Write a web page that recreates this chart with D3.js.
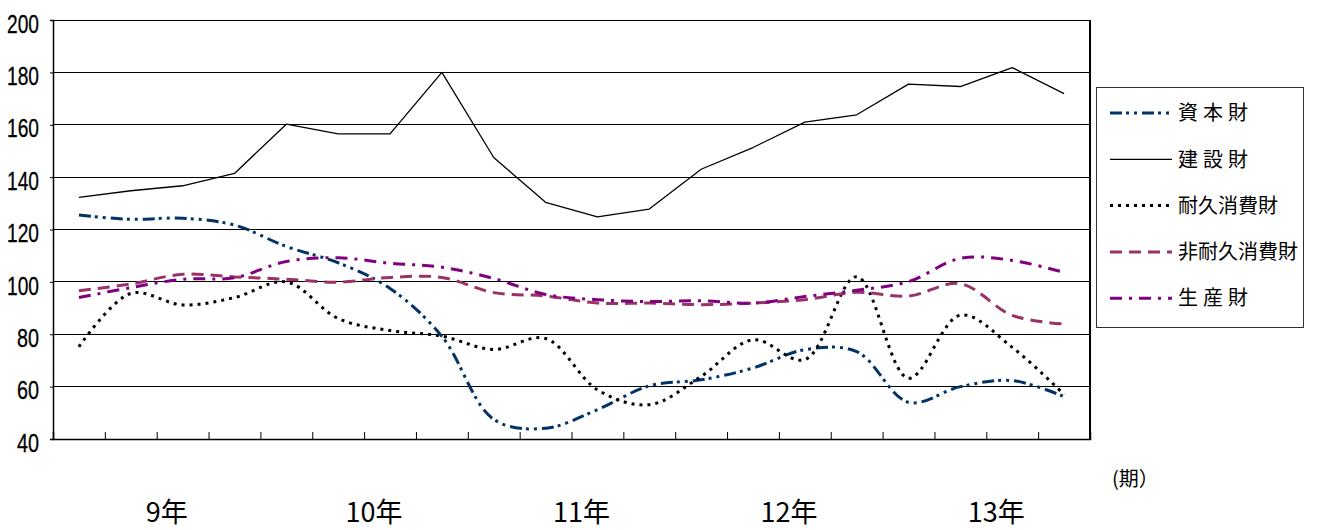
<!DOCTYPE html>
<html>
<head>
<meta charset="utf-8">
<script src="https://cdn.jsdelivr.net/npm/d3@7"></script>
<style>
  html, body { margin: 0; padding: 0; background: #fff; }
  svg { display: block; }
</style>
</head>
<body>
<svg id="chart" width="1317" height="530"></svg>
<script>
// ---------------- data ----------------
const quarters = d3.range(20); // 9年Q1 ... 13年Q4
const yearLabels = ["9年", "10年", "11年", "12年", "13年"];
const yTicks = [40, 60, 80, 100, 120, 140, 160, 180, 200];

const seriesNames = ["資本財", "建設財", "耐久消費財", "非耐久消費財", "生産財"];
const shihonzai   = [125.5, 123.9, 124.3, 121.7, 113.5, 107.3, 97.5, 79.2, 47.5, 44.1, 51.2, 60.3, 62.6, 67.1, 74.1, 73.4, 54.0, 60.0, 62.3, 56.2];
const kensetsuzai = [132.3, 134.8, 136.7, 141.4, 160.2, 156.5, 156.5, 180.0, 147.5, 130.4, 124.8, 127.8, 143.0, 151.3, 161.0, 163.8, 175.5, 174.6, 181.8, 171.9];
const taikyu      = [75.2, 95.6, 91.2, 94.0, 100.0, 86.0, 81.4, 79.3, 74.2, 78.4, 58.8, 53.1, 63.9, 77.9, 70.3, 102.0, 63.2, 87.3, 75.0, 57.0];
const hitaikyu    = [96.6, 99.2, 102.9, 101.9, 101.0, 99.9, 101.7, 101.7, 95.9, 94.6, 91.9, 91.9, 91.3, 91.9, 93.2, 96.0, 94.6, 99.3, 87.2, 83.9];
const seisanzai   = [94.0, 97.8, 101.0, 101.6, 107.8, 109.2, 107.1, 105.6, 101.3, 95.2, 93.2, 92.5, 92.8, 91.9, 94.4, 96.8, 100.1, 109.0, 108.2, 103.6];
const seriesValues = [shihonzai, kensetsuzai, taikyu, hitaikyu, seisanzai];

// ---------------- styles ----------------
const styles = [
  { color: "#003366", width: 3,   dash: "12,4,3,5,3,5", smooth: true },
  { color: "#000000", width: 1.3, dash: null,           smooth: false },
  { color: "#000000", width: 3,   dash: "3,5",          smooth: true },
  { color: "#993366", width: 3,   dash: "12,7",         smooth: true },
  { color: "#800080", width: 3,   dash: "12,7,3,7",     smooth: true }
];

const svg = d3.select("#chart");
const L = 53, R = 1090, T = 20, B = 439;

const x = d3.scaleBand().domain(quarters).range([L, R]).padding(0);
const xb = d3.scaleLinear().domain([0, quarters.length]).range([L, R]);
const y = d3.scaleLinear().domain([40, 200]).range([B, T]);
const cx = i => x(i) + x.bandwidth() / 2;

// grid lines
svg.append("g").selectAll("line").data(yTicks.filter(v => v > 40)).join("line")
  .attr("x1", L).attr("x2", R).attr("y1", d => y(d)).attr("y2", d => y(d))
  .attr("stroke", "#000").attr("stroke-width", 1).attr("shape-rendering", "crispEdges");

// right border
svg.append("line").attr("x1", R).attr("x2", R).attr("y1", T).attr("y2", B)
  .attr("stroke", "#000").attr("stroke-width", 1.3).attr("shape-rendering", "crispEdges");

// left axis
const yAxis = svg.append("g").attr("transform", `translate(${L},0)`)
  .call(d3.axisLeft(y).tickValues(yTicks).tickSize(3).tickPadding(11).tickFormat(d3.format("d")));
yAxis.select(".domain").attr("stroke", "#000").attr("stroke-width", 1.5);
yAxis.selectAll(".tick line").attr("stroke", "#000");
yAxis.selectAll(".tick text")
  .attr("font-family", "'Liberation Sans', Arial, sans-serif")
  .attr("font-size", 26)
  .attr("fill", "#000")
  .attr("stroke", "#000").attr("stroke-width", 0.3)
  .attr("dy", "0.47em")
  .attr("textLength", d => String(d).length === 3 ? 32 : 22)
  .attr("lengthAdjust", "spacingAndGlyphs");

// bottom axis with inward ticks at quarter boundaries
const xAxis = svg.append("g").attr("transform", `translate(0,${B})`)
  .call(d3.axisBottom(xb).tickValues(d3.range(0, quarters.length + 1)).tickSize(-7).tickFormat(""));
xAxis.select(".domain").attr("stroke", "#000").attr("stroke-width", 1.5);
xAxis.selectAll(".tick line").attr("stroke", "#000");

// year labels
svg.append("g").selectAll("text").data(yearLabels).join("text")
  .attr("x", (d, k) => xb(4 * k + 2) + 10)
  .attr("y", 522)
  .attr("text-anchor", "middle")
  .attr("font-family", "'Noto Sans CJK JP', sans-serif")
  .attr("font-size", 27)
  .attr("fill", "#000")
  .text(d => d);

svg.append("text").attr("x", 1112).attr("y", 486)
  .attr("font-family", "'Noto Sans CJK JP', sans-serif")
  .attr("font-size", 20).attr("fill", "#000")
  .text("(期）");

// lines
const lineSmooth = d3.line().x((d, i) => cx(i)).y(d => y(d)).curve(d3.curveCatmullRom.alpha(0.5));
const lineStraight = d3.line().x((d, i) => cx(i)).y(d => y(d));

svg.append("g").selectAll("path").data(seriesValues).join("path")
  .attr("d", (d, i) => (styles[i].smooth ? lineSmooth : lineStraight)(d))
  .attr("fill", "none")
  .attr("stroke", (d, i) => styles[i].color)
  .attr("stroke-width", (d, i) => styles[i].width)
  .attr("stroke-dasharray", (d, i) => styles[i].dash)
  .attr("stroke-linejoin", "round");

// legend
const lg = svg.append("g");
lg.append("rect").attr("x", 1096.5).attr("y", 87.5).attr("width", 207).attr("height", 240)
  .attr("fill", "#fff").attr("stroke", "#333").attr("stroke-width", 1);
const rowY = i => 113 + i * 46.3;
const items = lg.selectAll("g.item").data(seriesNames).join("g").attr("class", "item");
items.append("line")
  .attr("x1", 1110).attr("x2", 1172)
  .attr("y1", (d, i) => rowY(i)).attr("y2", (d, i) => rowY(i))
  .attr("stroke", (d, i) => styles[i].color)
  .attr("stroke-width", (d, i) => styles[i].width)
  .attr("stroke-dasharray", (d, i) => styles[i].dash);
items.append("text")
  .attr("x", 1178)
  .attr("y", (d, i) => rowY(i))
  .attr("dy", "0.36em")
  .attr("font-family", "'Noto Sans CJK JP', sans-serif")
  .attr("font-size", 20)
  .attr("fill", "#000")
  .attr("letter-spacing", d => d.length === 3 ? 5 : 0)
  .text(d => d);
</script>
</body>
</html>
